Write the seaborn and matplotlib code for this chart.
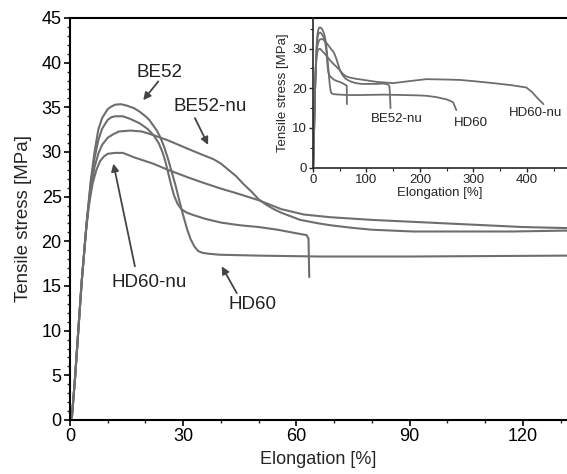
import matplotlib
matplotlib.use("Agg")
import matplotlib.pyplot as plt
import seaborn as sns
import pandas as pd
from matplotlib.ticker import MultipleLocator

# ---------------- data ----------------
hd60_x = [0, 0.5, 1.3, 2.2, 3.1, 4.4, 5.5, 6.5, 7.5, 8.5, 10, 11, 12, 13.5, 15, 17, 18.5, 20,
          21, 22, 23, 24, 25, 26, 27, 28, 29, 30, 31, 32, 33, 34, 35.2, 37, 39.7, 50, 66,
          90, 131, 170, 200, 212, 230, 250, 262, 268]
hd60_y = [0, 0.3, 4.5, 10, 15.5, 22, 26.8, 30.0, 32.5, 33.8, 34.8, 35.1, 35.3, 35.35, 35.2, 34.9,
          34.5, 34.0, 33.6, 33.0, 32.4, 31.6, 30.5, 29.2, 27.7, 26.2, 24.5, 22.9, 21.4, 20.2, 19.4,
          18.9, 18.7, 18.6, 18.5, 18.4, 18.3, 18.3, 18.4, 18.3, 18.2, 18.1, 17.8, 17.2, 16.5, 14.5]

be52_x = [0, 0.5, 1.3, 2.2, 3.1, 4.4, 5.5, 6.5, 7.5, 8.5, 10, 11, 12, 14, 16, 18.5, 20.5,
          22.1, 23.5, 24.5, 25.3, 26, 26.8, 27.6, 28.5, 29.5, 31, 33, 36, 40, 45, 50, 55, 60,
          62.7, 63.2, 63.4]
be52_y = [0, 0.3, 4.5, 10, 15.5, 22, 26.5, 29.3, 31.3, 32.6, 33.6, 33.9, 34.0, 34.0, 33.7, 33.2,
          32.6, 31.9, 31.0, 30.0, 28.9, 27.7, 26.3, 25.1, 24.2, 23.6, 23.2, 22.9, 22.5, 22.1, 21.8,
          21.6, 21.3, 20.9, 20.7, 20.3, 16.0]

be52nu_x = [0, 0.5, 1.3, 2.2, 3.1, 4.4, 5.5, 6.5, 7.5, 8.5, 10, 11.5, 13, 16, 19, 22, 26, 31, 35,
            38, 40, 42, 44, 46, 48, 50, 52, 54, 56, 58.5, 61, 66, 69, 75, 80, 91, 105, 117, 131,
            140, 143, 144, 145]
be52nu_y = [0, 0.3, 4.5, 10, 15.5, 22, 26, 28.3, 29.8, 30.8, 31.6, 32.0, 32.3, 32.4, 32.3, 31.9,
            31.3, 30.4, 29.7, 29.2, 28.7, 28.0, 27.3, 26.4, 25.6, 24.7, 24.1, 23.6, 23.2, 22.8, 22.4,
            22.0, 21.8, 21.5, 21.3, 21.1, 21.1, 21.1, 21.2, 21.0, 20.5, 18, 15]

hd60nu_x = [0, 0.5, 1.3, 2.2, 3.1, 4.2, 5, 6, 7, 8, 9, 10, 12, 14, 17, 22, 26, 31, 35, 40, 44,
            50, 56, 62, 69, 80, 100, 120, 150, 180, 212, 250, 275, 300, 337, 370, 399, 410,
            420, 431]
hd60nu_y = [0, 0.3, 4.5, 10, 15.5, 21, 24, 26.5, 28.0, 29.0, 29.5, 29.8, 29.9, 29.9, 29.4, 28.7,
            28, 27.2, 26.6, 25.9, 25.4, 24.6, 23.6, 23.0, 22.7, 22.4, 22.0, 21.6, 21.3, 21.8, 22.3,
            22.2, 22.1, 21.8, 21.3, 20.8, 20.2, 19.0, 17.5, 16.0]

series_names = ["HD60", "BE52", "BE52-nu", "HD60-nu"]
main_xticks = [0, 30, 60, 90, 120]
main_yticks = [0, 5, 10, 15, 20, 25, 30, 35, 40, 45]
inset_xticks = [0, 100, 200, 300, 400]
inset_yticks = [0, 10, 20, 30]

frames = []
for name, xs, ys in zip(series_names,
                        [hd60_x, be52_x, be52nu_x, hd60nu_x],
                        [hd60_y, be52_y, be52nu_y, hd60nu_y]):
    frames.append(pd.DataFrame({"Elongation": xs, "Stress": ys, "Sample": name}))
df = pd.concat(frames, ignore_index=True)

# ---------------- style ----------------
sns.set_style("ticks")
plt.rcParams["font.family"] = ["Liberation Sans", "DejaVu Sans"]
line_col = "#6e6e6e"
pal = {n: line_col for n in series_names}

fig = plt.figure(figsize=(5.67, 4.74), dpi=100)
ax = fig.add_axes([70 / 567, 54 / 474, 497 / 567, 402 / 474])

sns.lineplot(data=df, x="Elongation", y="Stress", hue="Sample", units="Sample",
             estimator=None, sort=False, palette=pal, lw=1.5, legend=False, ax=ax)

ax.set_xlim(0, 131.7)
ax.set_ylim(0, 45)
ax.set_xticks(main_xticks)
ax.set_yticks(main_yticks)
ax.xaxis.set_minor_locator(MultipleLocator(10))
ax.yaxis.set_minor_locator(MultipleLocator(1))
ax.tick_params(axis="both", which="major", direction="out", length=4, width=1.2,
               labelsize=13, colors="black", pad=2)
ax.tick_params(axis="both", which="minor", direction="out", length=2.5, width=1.0)
ax.set_xlabel("Elongation [%]", fontsize=13, labelpad=4)
ax.set_ylabel("Tensile stress [MPa]", fontsize=13.5, labelpad=7)
for s in ["left", "bottom", "top"]:
    ax.spines[s].set_linewidth(1.5)
    ax.spines[s].set_color("black")
ax.spines["right"].set_visible(False)

# labels with arrows
txt_kw = dict(fontsize=13.5, ha="center", va="center", color="#222222")
arr_kw = dict(arrowstyle="-|>", color="#444444", lw=1.3, mutation_scale=11, shrinkA=0, shrinkB=0)
ax.text(23.6, 38.9, "BE52", **txt_kw)
ax.annotate("", xy=(19.4, 35.8), xytext=(23.4, 37.9), arrowprops=arr_kw)
ax.text(37.0, 35.1, "BE52-nu", **txt_kw)
ax.annotate("", xy=(36.6, 30.8), xytext=(33.1, 33.8), arrowprops=arr_kw)
ax.text(20.9, 15.4, "HD60-nu", **txt_kw)
ax.annotate("", xy=(11.5, 28.7), xytext=(17.2, 17.2), arrowprops=arr_kw)
ax.text(48.3, 12.9, "HD60", **txt_kw)
ax.annotate("", xy=(40.2, 17.2), xytext=(44.2, 14.2), arrowprops=arr_kw)

# ---------------- inset ----------------
ins = fig.add_axes([313 / 567, (474 - 167.7) / 474, 254 / 567, 149.7 / 474])
ins.set_facecolor("none")
sns.lineplot(data=df, x="Elongation", y="Stress", hue="Sample", units="Sample",
             estimator=None, sort=False, palette=pal, lw=1.3, legend=False, ax=ins)
ins.set_xlim(0, 475)
ins.set_ylim(0, 37.7)
ins.set_xticks(inset_xticks)
ins.set_yticks(inset_yticks)
ins.xaxis.set_minor_locator(MultipleLocator(50))
ins.yaxis.set_minor_locator(MultipleLocator(5))
ins.tick_params(axis="both", which="major", direction="out", length=3, width=1.0,
                labelsize=9.5, pad=1.5)
ins.tick_params(axis="both", which="minor", direction="out", length=2, width=0.8)
ins.set_xlabel("Elongation [%]", fontsize=9.5, labelpad=1)
ins.set_ylabel("Tensile stress [MPa]", fontsize=9.5, labelpad=2)
ins.spines["top"].set_visible(False)
ins.spines["right"].set_visible(False)
ins.spines["left"].set_linewidth(1.2)
ins.spines["bottom"].set_linewidth(1.2)

ins_kw = dict(fontsize=9.5, ha="center", va="center", color="#222222")
ins.text(156, 12.3, "BE52-nu", **ins_kw)
ins.text(295, 11.3, "HD60", **ins_kw)
ins.text(417, 13.9, "HD60-nu", **ins_kw)

fig.savefig("out.png", dpi=100)
